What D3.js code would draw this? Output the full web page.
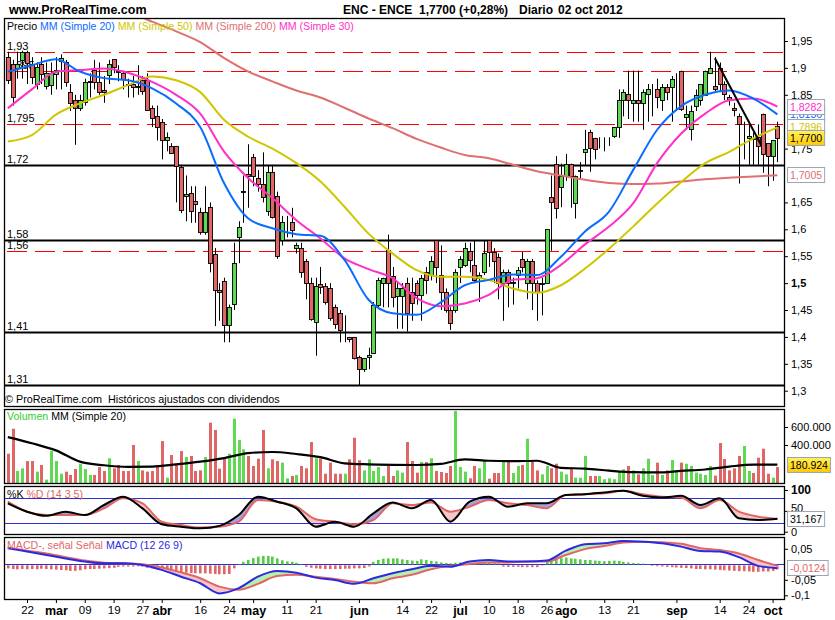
<!DOCTYPE html>
<html><head><meta charset="utf-8">
<script src="https://cdn.jsdelivr.net/npm/d3@7"></script>
<style>
body{margin:0;background:#fff}
svg text{font-family:"Liberation Sans",Arial,sans-serif;}
</style>
</head><body>
<svg id="c" width="835" height="620"></svg>
<script>
// ---------------- DATA ----------------
// daily candles [open, high, low, close], 16 feb 2012 .. 02 oct 2012 (index = trading day)
const candles = [
[1.921,1.930,1.870,1.879],[1.908,1.915,1.830,1.846],[1.901,1.930,1.880,1.908],[1.915,1.932,1.880,1.930],[1.930,1.932,1.870,1.910],
[1.908,1.920,1.870,1.884],[1.871,1.910,1.860,1.902],[1.908,1.920,1.870,1.890],[1.865,1.910,1.860,1.890],[1.868,1.910,1.850,1.890],
[1.890,1.920,1.860,1.897],[1.912,1.925,1.860,1.918],[1.911,1.915,1.865,1.874],[1.855,1.870,1.820,1.834],[1.840,1.850,1.757,1.825],
[1.825,1.850,1.820,1.840],[1.837,1.880,1.830,1.874],[1.874,1.890,1.845,1.876],[1.896,1.915,1.860,1.874],[1.874,1.910,1.850,1.856],
[1.859,1.885,1.835,1.856],[1.887,1.915,1.870,1.908],[1.916,1.916,1.890,1.902],[1.895,1.905,1.875,1.893],[1.890,1.895,1.860,1.878],
[1.870,1.880,1.845,1.868],[1.871,1.885,1.845,1.865],[1.865,1.905,1.850,1.866],[1.877,1.885,1.850,1.856],[1.877,1.890,1.820,1.822],
[1.825,1.830,1.790,1.806],[1.810,1.830,1.765,1.790],[1.800,1.805,1.730,1.767],[1.767,1.780,1.745,1.772],[1.754,1.760,1.740,1.741],
[1.754,1.755,1.650,1.716],[1.716,1.720,1.630,1.636],[1.662,1.700,1.615,1.665],[1.667,1.680,1.612,1.633],[1.653,1.680,1.612,1.648],
[1.633,1.640,1.590,1.596],[1.595,1.680,1.590,1.633],[1.642,1.650,1.520,1.537],[1.555,1.565,1.420,1.488],[1.488,1.500,1.430,1.484],
[1.503,1.510,1.390,1.422],[1.422,1.460,1.390,1.456],[1.460,1.575,1.450,1.537],[1.585,1.615,1.537,1.604],[1.670,1.700,1.612,1.671],
[1.703,1.758,1.640,1.700],[1.734,1.740,1.680,1.698],[1.695,1.710,1.670,1.683],[1.685,1.743,1.650,1.661],[1.633,1.720,1.625,1.706],
[1.706,1.720,1.620,1.623],[1.661,1.670,1.545,1.549],[1.581,1.625,1.570,1.614],[1.614,1.625,1.585,1.614],[1.614,1.640,1.585,1.600],
[1.565,1.575,1.555,1.571],[1.565,1.575,1.510,1.520],[1.541,1.545,1.470,1.500],[1.500,1.510,1.430,1.434],[1.428,1.510,1.365,1.494],
[1.499,1.530,1.480,1.493],[1.494,1.500,1.460,1.464],[1.490,1.500,1.430,1.434],[1.456,1.460,1.415,1.425],[1.445,1.450,1.390,1.413],
[1.413,1.440,1.390,1.413],[1.399,1.400,1.390,1.396],[1.399,1.400,1.358,1.360],[1.363,1.365,1.310,1.340],[1.340,1.360,1.335,1.360],
[1.362,1.380,1.340,1.366],[1.370,1.465,1.370,1.460],[1.460,1.510,1.455,1.506],[1.500,1.510,1.455,1.510],[1.562,1.590,1.455,1.500],
[1.514,1.530,1.455,1.475],[1.475,1.500,1.415,1.490],[1.475,1.500,1.415,1.490],[1.500,1.510,1.410,1.444],[1.484,1.510,1.430,1.464],
[1.500,1.505,1.460,1.478],[1.478,1.515,1.430,1.510],[1.520,1.530,1.480,1.506],[1.515,1.550,1.505,1.541],[1.580,1.580,1.500,1.530],
[1.515,1.570,1.450,1.484],[1.484,1.490,1.445,1.450],[1.450,1.455,1.413,1.425],[1.450,1.526,1.445,1.520],[1.529,1.550,1.500,1.544],
[1.534,1.575,1.530,1.565],[1.560,1.575,1.520,1.544],[1.534,1.580,1.500,1.506],[1.510,1.520,1.465,1.515],[1.520,1.580,1.515,1.556],
[1.580,1.580,1.530,1.558],[1.558,1.565,1.500,1.541],[1.549,1.555,1.470,1.500],[1.500,1.525,1.430,1.520],[1.520,1.525,1.455,1.500],
[1.500,1.510,1.460,1.502],[1.515,1.530,1.490,1.525],[1.544,1.558,1.520,1.530],[1.500,1.545,1.470,1.541],[1.541,1.545,1.450,1.500],
[1.500,1.505,1.430,1.484],[1.500,1.510,1.440,1.501],[1.500,1.600,1.500,1.600],[1.660,1.700,1.560,1.650],[1.722,1.736,1.620,1.641],
[1.680,1.722,1.641,1.700],[1.700,1.740,1.690,1.722],[1.722,1.722,1.640,1.700],[1.650,1.700,1.620,1.700],[1.710,1.725,1.695,1.711],
[1.745,1.785,1.720,1.750],[1.780,1.785,1.707,1.750],[1.770,1.770,1.730,1.750],[1.771,1.771,1.750,1.771],[1.771,1.771,1.745,1.771],
[1.771,1.771,1.755,1.771],[1.773,1.790,1.770,1.790],[1.790,1.860,1.770,1.840],[1.840,1.860,1.810,1.855],[1.851,1.895,1.805,1.840],
[1.835,1.895,1.800,1.840],[1.840,1.895,1.800,1.835],[1.835,1.860,1.785,1.855],[1.850,1.870,1.800,1.860],[1.860,1.870,1.810,1.860],
[1.860,1.880,1.825,1.845],[1.840,1.870,1.820,1.865],[1.865,1.870,1.840,1.855],[1.865,1.885,1.800,1.880],[1.890,1.890,1.820,1.890],
[1.895,1.895,1.820,1.825],[1.810,1.830,1.785,1.815],[1.786,1.830,1.765,1.820],[1.830,1.860,1.820,1.850],[1.840,1.870,1.830,1.870],
[1.851,1.895,1.850,1.895],[1.890,1.930,1.890,1.900],[1.866,1.920,1.855,1.860],[1.900,1.910,1.855,1.870],[1.870,1.875,1.840,1.851],
[1.845,1.850,1.830,1.839],[1.826,1.835,1.810,1.822],[1.810,1.815,1.685,1.795],[1.775,1.800,1.730,1.775],[1.771,1.800,1.720,1.774],
[1.770,1.780,1.720,1.768],[1.771,1.795,1.720,1.755],[1.815,1.815,1.705,1.740],[1.760,1.760,1.680,1.736],[1.736,1.766,1.690,1.766],
[1.792,1.800,1.725,1.770]
];
const volumes = [303000,581000,111000,141000,222000,222000,104000,178000,15000,333000,
222000,81000,104000,67000,133000,192000,133000,67000,67000,155000,
111000,252000,141000,178000,111000,111000,400000,222000,118000,104000,
111000,167000,444000,37000,289000,192000,333000,267000,278000,111000,
118000,267000,648000,567000,137000,252000,303000,693000,455000,352000,
278000,167000,248000,567000,141000,241000,222000,204000,30000,56000,
67000,167000,141000,433000,252000,252000,81000,204000,81000,81000,
81000,241000,481000,230000,118000,241000,111000,155000,56000,167000,
56000,118000,93000,433000,222000,93000,211000,211000,252000,111000,
100000,89000,167000,778000,155000,104000,30000,167000,141000,222000,
26000,89000,89000,211000,211000,89000,167000,178000,470000,211000,
118000,74000,167000,141000,192000,104000,74000,141000,37000,37000,
278000,56000,56000,56000,20000,30000,20000,104000,130000,167000,
118000,74000,141000,248000,67000,204000,67000,118000,233000,111000,
204000,192000,167000,93000,81000,67000,167000,60000,422000,244000,
118000,141000,278000,389000,111000,89000,259000,359000,81000,37000,
155000];

// moving averages read every 5 trading days (index 0,5,10..160)
const maStep = 5;
const ma20  = [1.893,1.905,1.916,1.893,1.881,1.877,1.862,1.834,1.790,1.685,1.620,1.602,1.591,1.588,1.543,1.469,1.444,1.441,1.464,1.496,1.506,1.516,1.515,1.549,1.596,1.633,1.710,1.785,1.829,1.850,1.858,1.843,1.8136];
const ma30  = [1.825,1.860,1.893,1.896,1.899,1.891,1.874,1.850,1.815,1.744,1.695,1.658,1.617,1.583,1.546,1.526,1.509,1.472,1.457,1.462,1.478,1.506,1.509,1.534,1.572,1.605,1.648,1.723,1.778,1.815,1.840,1.843,1.8282];
const ma50  = [1.763,1.775,1.813,1.834,1.850,1.868,1.884,1.877,1.855,1.803,1.772,1.750,1.723,1.689,1.642,1.592,1.555,1.524,1.512,1.512,1.506,1.490,1.482,1.496,1.527,1.564,1.605,1.648,1.688,1.723,1.744,1.769,1.7896];
const ma200 = [2.100,2.080,2.060,2.040,2.020,2.005,1.986,1.968,1.948,1.918,1.893,1.875,1.858,1.845,1.826,1.806,1.788,1.768,1.752,1.738,1.732,1.720,1.708,1.700,1.692,1.686,1.684,1.685,1.689,1.693,1.696,1.698,1.7005];
const volMa = [488000,420000,340000,215000,175000,158000,160000,185000,215000,255000,310000,322000,300000,265000,196000,185000,180000,178000,190000,240000,225000,220000,225000,145000,138000,115000,98000,95000,112000,128000,160000,182000,180924];

// oscillators read every 4 trading days (index 0,4,8..160)
const oscStep = 4;
const stochK = [68,48,38,48,40,64,84,56,18,12,8,14,40,84,72,56,12,24,12,44,70,56,76,24,72,84,60,68,68,88,90,94,98,86,82,86,64,80,32,28,31.167];
const stochD = [72,48,40,40,40,56,80,68,24,16,10,12,24,76,72,60,30,24,18,28,68,64,70,48,60,76,68,64,56,88,90,92,98,90,84,82,56,76,48,36,30.5];
const macd   = [0.052,0.041,0.030,0.019,0.009,0.003,0.003,-0.002,-0.018,-0.040,-0.061,-0.094,-0.077,-0.040,-0.022,-0.027,-0.043,-0.051,-0.063,-0.045,-0.029,-0.016,-0.005,-0.008,0.009,0.014,0.009,0.009,0.012,0.044,0.065,0.068,0.075,0.073,0.068,0.057,0.043,0.041,0.023,-0.005,-0.0124];
const signal = [0.054,0.044,0.035,0.023,0.012,0.005,0.003,0.000,-0.010,-0.026,-0.045,-0.072,-0.082,-0.063,-0.038,-0.034,-0.040,-0.047,-0.056,-0.061,-0.045,-0.034,-0.016,-0.005,0.001,0.006,0.006,0.009,0.009,0.030,0.049,0.059,0.070,0.073,0.071,0.066,0.052,0.046,0.035,0.014,-0.005];
// daily MACD histogram
const macdHist = [
-0.010,-0.012,-0.013,-0.012,-0.013,-0.012,-0.013,-0.011,-0.012,-0.013,
-0.014,-0.015,-0.016,-0.018,-0.018,-0.016,-0.013,-0.012,-0.012,-0.011,
-0.010,-0.009,-0.008,-0.005,-0.004,-0.004,-0.004,-0.003,-0.004,-0.008,
-0.010,-0.013,-0.015,-0.017,-0.019,-0.022,-0.023,-0.024,-0.025,-0.026,
-0.026,-0.026,-0.027,-0.028,-0.029,-0.029,-0.028,-0.010,0.001,0.008,
0.014,0.020,0.025,0.027,0.027,0.025,0.019,0.013,0.009,0.008,
0.005,0.001,-0.005,-0.008,-0.010,-0.011,-0.012,-0.012,-0.012,-0.012,
-0.011,-0.011,-0.010,-0.010,-0.009,-0.004,0.008,0.014,0.018,0.019,
0.019,0.019,0.016,0.014,0.012,0.011,0.016,0.014,0.011,0.009,
0.006,0.004,0.003,0.005,0.006,0.006,0.007,0.007,0.006,0.006,
0.005,0.004,0.003,-0.004,-0.005,-0.005,-0.005,-0.006,-0.006,-0.006,
-0.006,-0.001,0.008,0.014,0.018,0.020,0.022,0.019,0.018,0.016,
0.014,0.014,0.012,0.011,0.010,0.011,0.012,0.011,0.008,0.006,
0.004,0.003,0.002,0.001,-0.002,-0.003,-0.004,-0.005,-0.006,-0.007,
-0.008,-0.009,-0.010,-0.012,-0.012,-0.013,-0.013,-0.014,-0.015,-0.016,
-0.017,-0.018,-0.019,-0.019,-0.020,-0.021,-0.021,-0.020,-0.020,-0.018,
-0.013];

// horizontal support / resistance levels
const levels      = [1.93, 1.895, 1.795, 1.72, 1.58, 1.56, 1.41, 1.31];
const levelLabels = ["1,93","1,895","1,795","1,72","1,58","1,56","1,41","1,31"];
const levelKind   = ["r","r","r","s","s","r","s","s"];
// hand-drawn trend line (day index, price)
const trendIdx = [147, 156.6];
const trendVal = [1.918, 1.757];

// axis ticks (labels hidden behind value boxes in the reference are left out)
const tickIdx    = [4,10,16,22,28,32,40,46,51,58,64,73,82,88,94,100,106,112,116,124,130,139,148,154,159];
const tickLabels = ["22","mar","09","19","27","abr","16","24","may","11","21","jun","14","22","jul","10","18","26","ago","13","21","sep","14","24","oct"];
const monthLabels = ["mar","abr","may","jun","jul","ago","sep","oct"];
const priceTicks = [1.3,1.35,1.4,1.45,1.5,1.55,1.6,1.65,1.75,1.85,1.9,1.95];
const volTicks = [400000,600000];
const stochTicks = [0,50,100];
const macdTicks = [-0.1,-0.05,0.05];

// ---------------- DRAWING ----------------
const loc = d3.formatLocale({decimal:",", thousands:".", grouping:[3], currency:["","€"], minus:"-"});
const L = 4, R = 784;
const P = {top:18, bottom:406}, V = {top:409, bottom:483}, S = {top:486, bottom:534}, M = {top:537, bottom:599};
const RED = "#e06666", GREEN = "#5fd952", BLUE20 = "#0a6cff", YEL = "#cfc600", MA200C = "#e07070", MAG = "#ff2fc8";

const x  = d3.scaleLinear().domain([-0.79, 161.37]).range([L, R]);
const yP = d3.scaleLinear().domain([1.3, 1.95]).range([390.7, 41]);
const yV = d3.scaleLinear().domain([0, 600000]).range([481, 427]);
const yS = d3.scaleLinear().domain([0, 100]).range([531.7, 490]);
const yM = d3.scaleLinear().domain([-0.1, 0.05]).range([595.3, 548.8]);

const svg = d3.select("#c");
const defs = svg.append("defs");
function clipRect(id, p){ defs.append("clipPath").attr("id", id).append("rect").attr("x", L).attr("y", p.top).attr("width", R-L).attr("height", p.bottom-p.top); }
clipRect("cP", P); clipRect("cV", V); clipRect("cS", S); clipRect("cM", M);

const grad = defs.append("linearGradient").attr("id","yg").attr("x1",0).attr("y1",0).attr("x2",0).attr("y2",1);
grad.append("stop").attr("offset","0%").attr("stop-color","#fff35a");
grad.append("stop").attr("offset","100%").attr("stop-color","#ffc800");

const up = d => d[3] >= d[0];
const xr = i => Math.round(x(i)) + 0.5;

// ---- header
svg.append("text").attr("x", 9).attr("y", 14).attr("font-weight","bold").attr("font-size",12.5).text("www.ProRealTime.com");
svg.append("text").attr("x", 343).attr("y", 14).attr("font-weight","bold").attr("font-size",12).text("ENC - ENCE");
svg.append("text").attr("x", 419).attr("y", 14).attr("font-weight","bold").attr("font-size",12).text("1,7700 (+0,28%)");
svg.append("text").attr("x", 519).attr("y", 14).attr("font-weight","bold").attr("font-size",12).text("Diario");
svg.append("text").attr("x", 558).attr("y", 14).attr("font-weight","bold").attr("font-size",12).text("02 oct 2012");

// ---- price panel
const gP = svg.append("g").attr("clip-path","url(#cP)");
levels.forEach((lv, k) => {
  const yy = Math.round(yP(lv)) + 0.5;
  gP.append("text").attr("x", 7).attr("y", yy - 2.5).attr("font-size", 11).text(levelLabels[k]);
});
levels.forEach((lv, k) => {
  const yy = Math.round(yP(lv)) + 0.5;
  const ln = gP.append("line").attr("x1", L).attr("x2", R).attr("y1", yy).attr("y2", yy);
  if (levelKind[k] === "r") ln.attr("stroke", "#ff0000").attr("stroke-width", 1).attr("stroke-dasharray", "20,8").attr("stroke-dashoffset", -3);
  else ln.attr("stroke", "#000").attr("stroke-width", 2);
});
gP.selectAll("line.w").data(candles).join("line").attr("class","w")
  .attr("x1", (d,i)=>xr(i)).attr("x2", (d,i)=>xr(i))
  .attr("y1", d=>yP(d[1])).attr("y2", d=>yP(d[2])).attr("stroke","#000").attr("stroke-width",1);
gP.selectAll("rect.b").data(candles).join("rect").attr("class","b")
  .attr("x", (d,i)=>Math.round(x(i)) - 1.5).attr("width", 4)
  .attr("y", d=>Math.round(yP(Math.max(d[0],d[3]))) + 0.5)
  .attr("height", d=>Math.max(0, Math.round(Math.abs(yP(d[0]) - yP(d[3])))))
  .attr("fill", d=> up(d) ? GREEN : RED).attr("stroke","#000").attr("stroke-width",0.9);
const maLine = d3.line().x(d=>x(d[0])).y(d=>d[1]).curve(d3.curveMonotoneX);
function drawMA(arr, color, scale, g, w){
  const pts = arr.map((v,k)=>[k*maStep, scale(v)]);
  g.append("path").attr("d", maLine(pts)).attr("fill","none").attr("stroke",color).attr("stroke-width", w||2);
}
drawMA(ma200, MA200C, yP, gP);
drawMA(ma50, YEL, yP, gP);
drawMA(ma30, MAG, yP, gP);
drawMA(ma20, BLUE20, yP, gP);
gP.append("line").attr("x1", x(trendIdx[0])).attr("y1", yP(trendVal[0])).attr("x2", x(trendIdx[1])).attr("y2", yP(trendVal[1]))
  .attr("stroke","#000").attr("stroke-width",2);
const lg = svg.append("text").attr("x", 7).attr("y", 30).attr("font-size", 10.6).attr("xml:space","preserve");
[["Precio ","#000"],["MM (Simple 20) ",BLUE20],["MM (Simple 50) ",YEL],["MM (Simple 200) ",MA200C],["MM (Simple 30)",MAG]]
  .forEach(([t,c]) => lg.append("tspan").attr("fill", c).text(t));
svg.append("text").attr("x", 5).attr("y", 403).attr("font-size", 10.8).attr("xml:space","preserve").text("© ProRealTime.com  Históricos ajustados con dividendos");

// ---- volume panel
const gV = svg.append("g").attr("clip-path","url(#cV)");
gV.selectAll("rect").data(volumes).join("rect")
  .attr("x", (d,i)=>Math.round(x(i)) - 1).attr("width", 3)
  .attr("y", d=>yV(d)).attr("height", d=>yV(0) - yV(d) + 2)
  .attr("fill", (d,i)=> up(candles[i]) ? GREEN : RED);
drawMA(volMa, "#000", yV, gV, 2.2);
const lv = svg.append("text").attr("x", 7).attr("y", 420).attr("font-size", 10.6).attr("xml:space","preserve");
lv.append("tspan").attr("fill", "#33cc33").text("Volumen ");
lv.append("tspan").attr("fill", "#000").text("MM (Simple 20)");

// ---- oscillator helpers
const oscLine = d3.line().x(d=>x(d[0])).y(d=>d[1]).curve(d3.curveMonotoneX);
function fillBetween(g, a, b, sc, colUp, colDn, id, p){
  const pts = a.map((v,k)=>({i:k*oscStep, a:v, b:b[k]}));
  const c = d3.curveMonotoneX;
  const between = d3.area().x(d=>x(d.i)).y0(d=>sc(d.b)).y1(d=>sc(d.a)).curve(c);
  const above = d3.area().x(d=>x(d.i)).y0(p.top - 50).y1(d=>sc(d.b)).curve(c);
  const below = d3.area().x(d=>x(d.i)).y0(p.bottom + 50).y1(d=>sc(d.b)).curve(c);
  defs.append("clipPath").attr("id", id+"u").append("path").attr("d", above(pts));
  defs.append("clipPath").attr("id", id+"d").append("path").attr("d", below(pts));
  g.append("g").attr("clip-path", `url(#${id}u)`).append("path").attr("d", between(pts)).attr("fill", colUp);
  g.append("g").attr("clip-path", `url(#${id}d)`).append("path").attr("d", between(pts)).attr("fill", colDn);
}
function drawOsc(arr, sc, g, color){
  g.append("path").attr("d", oscLine(arr.map((v,k)=>[k*oscStep, sc(v)]))).attr("fill","none").attr("stroke",color).attr("stroke-width",2);
}

// ---- stochastic panel
const gS = svg.append("g").attr("clip-path","url(#cS)");
fillBetween(gS, stochK, stochD, yS, "#a4a4d8", "#f6c6c6", "fs", S);
[20,80].forEach(v => gS.append("line").attr("x1",L).attr("x2",R).attr("y1",Math.round(yS(v))+0.5).attr("y2",Math.round(yS(v))+0.5).attr("stroke","#3030cc").attr("stroke-width",1));
drawOsc(stochD, yS, gS, RED);
drawOsc(stochK, yS, gS, "#000");
const ls = svg.append("text").attr("x", 7).attr("y", 498).attr("font-size", 10.6).attr("xml:space","preserve");
ls.append("tspan").attr("fill","#000").text("%K ");
ls.append("tspan").attr("fill",RED).text("%D (14 3 5)");

// ---- MACD panel
const gM = svg.append("g").attr("clip-path","url(#cM)");
gM.append("line").attr("x1",L).attr("x2",R).attr("y1",Math.round(yM(0))+0.5).attr("y2",Math.round(yM(0))+0.5).attr("stroke","#3030cc").attr("stroke-width",1);
gM.selectAll("rect.h").data(macdHist).join("rect").attr("class","h")
  .attr("x",(d,i)=>Math.round(x(i)) - 1).attr("width", 2.6)
  .attr("y", d=> d>0 ? yM(d) : yM(0)+1).attr("height", d=> Math.abs(yM(d)-yM(0)))
  .attr("fill", d=> d>0 ? "#55cc44" : RED);
fillBetween(gM, macd, signal, yM, "#b6f0b0", "#f6c6c6", "fm", M);
drawOsc(signal, yM, gM, RED);
drawOsc(macd, yM, gM, "#2a2ae0");
const lm = svg.append("text").attr("x", 7).attr("y", 549).attr("font-size", 10.6).attr("xml:space","preserve");
lm.append("tspan").attr("fill",RED).text("MACD-, señal Señal ");
lm.append("tspan").attr("fill","#2a2ae0").text("MACD (12 26 9)");

// ---- frames
[P,V,S,M].forEach(p => svg.append("rect").attr("x",L+0.5).attr("y",p.top+0.5).attr("width",R-L).attr("height",p.bottom-p.top).attr("fill","none").attr("stroke","#000").attr("stroke-width",1.3));

// ---- right axes
function styleAxis(g, fs){
  g.select(".domain").remove();
  g.selectAll(".tick line").attr("stroke","#000");
  g.selectAll(".tick text").attr("fill","#000").attr("font-size", fs).attr("font-family","Liberation Sans, Arial, sans-serif");
}
const aP = svg.append("g").attr("transform",`translate(${R},0)`)
  .call(d3.axisRight(yP).tickValues(priceTicks).tickFormat(loc.format(".2~f")).tickSize(4).tickPadding(3));
styleAxis(aP, 11);
aP.selectAll(".tick text").filter(d=>d===1.5).attr("font-weight","bold");
const aV = svg.append("g").attr("transform",`translate(${R},0)`)
  .call(d3.axisRight(yV).tickValues(volTicks).tickFormat(loc.format(",.0f")).tickSize(4).tickPadding(3));
styleAxis(aV, 11);
const aS = svg.append("g").attr("transform",`translate(${R},0)`)
  .call(d3.axisRight(yS).tickValues(stochTicks).tickFormat(loc.format("d")).tickSize(4).tickPadding(3));
styleAxis(aS, 11);
aS.selectAll(".tick text").filter(d=>d===100).attr("font-weight","bold").attr("font-size",12);
aS.selectAll(".tick text").filter(d=>d===50).attr("dy","0.1em");
const aM = svg.append("g").attr("transform",`translate(${R},0)`)
  .call(d3.axisRight(yM).tickValues(macdTicks).tickFormat(loc.format(".2~f")).tickSize(4).tickPadding(3));
styleAxis(aM, 11);

// ---- x axis
const aX = svg.append("g").attr("transform",`translate(0,${M.bottom})`)
  .call(d3.axisBottom(x).tickValues(tickIdx).tickFormat((d,k)=>tickLabels[k]).tickSize(4).tickPadding(3));
styleAxis(aX, 11.5);
aX.selectAll(".tick text").filter((d,k)=>monthLabels.includes(tickLabels[k])).attr("font-weight","bold").attr("font-size",12.5);

// ---- value boxes
function valBox(y, text, color, fill){
  const yy = Math.round(y);
  const t = svg.append("text").attr("x",790).attr("y",yy).attr("dy","0.36em").attr("font-size",10.5).attr("fill",color).text(text);
  const w = t.node().getComputedTextLength() + 5;
  svg.insert("rect", () => t.node()).attr("x",787.5).attr("y",yy-7.5).attr("width",Math.max(36,w)).attr("height",15).attr("fill",fill).attr("stroke","#9aa6b4");
}
const f4 = loc.format(".4f");
valBox(yP(ma20[ma20.length-1]), f4(ma20[ma20.length-1]), BLUE20, "#fff");
valBox(yP(ma30[ma30.length-1]), f4(ma30[ma30.length-1]), MAG, "#fff");
valBox(yP(ma50[ma50.length-1]), f4(ma50[ma50.length-1]), YEL, "#fff");
const lastC = candles[candles.length-1][3];
valBox(yP(lastC), f4(lastC), "#000", "url(#yg)");
valBox(yP(ma200[ma200.length-1]), f4(ma200[ma200.length-1]), MA200C, "#fff");
const lastVM = volMa[volMa.length-1];
valBox(yV(lastVM), loc.format(",.0f")(lastVM), "#000", "url(#yg)");
const lastK = stochK[stochK.length-1];
valBox(yS(lastK), loc.format(".3f")(lastK), "#000", "#fff");
const lastM = macd[macd.length-1];
valBox(yM(lastM), f4(lastM), RED, "#fff");
</script>
</body></html>
